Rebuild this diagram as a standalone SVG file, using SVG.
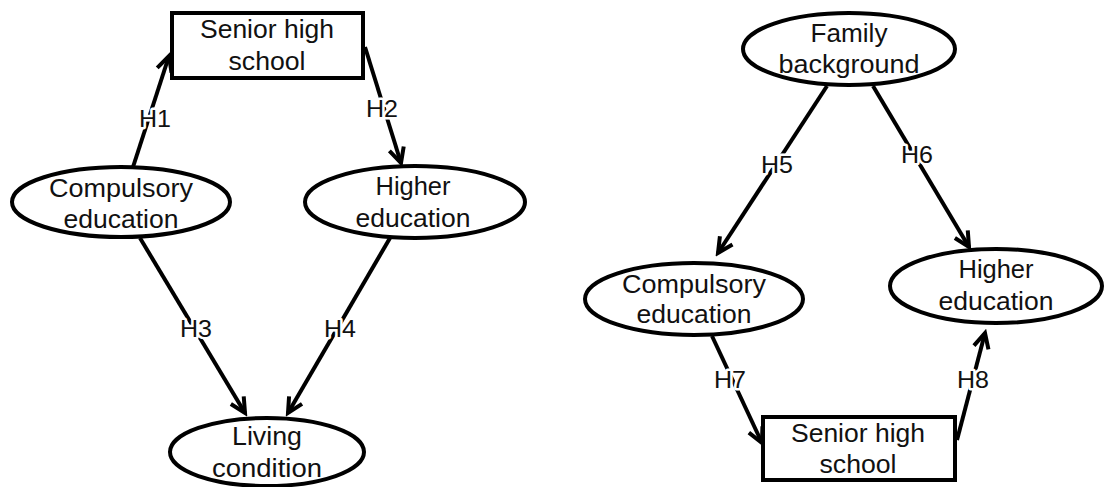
<svg xmlns="http://www.w3.org/2000/svg" width="1105" height="487" viewBox="0 0 1105 487">
<style>
.shape{fill:#fff;stroke:#000;stroke-width:4}
.t{font-family:"Liberation Sans",Arial,sans-serif;font-size:26px;fill:#111;text-anchor:middle}
.lbl{font-family:"Liberation Sans",Arial,sans-serif;font-size:24px;fill:#111;text-anchor:middle;stroke:#fff;stroke-width:5;paint-order:stroke;stroke-linejoin:round}
.edge{stroke:#000;stroke-width:4;fill:none;marker-end:url(#arr)}
</style>
<defs>
<marker id="arr" markerUnits="userSpaceOnUse" viewBox="-18 -10 22 20" markerWidth="22" markerHeight="20" refX="0" refY="0" orient="auto">
<path d="M-15,-7.5 L0,0 L-15,7.5" fill="none" stroke="#000" stroke-width="4" stroke-linejoin="miter"/>
</marker>
</defs>
<rect width="1105" height="487" fill="#fff"/>
<g id="connectors">
<line class="edge" x1="133" y1="167" x2="169" y2="56"/>
<line class="edge" x1="365" y1="47" x2="401" y2="163"/>
<line class="edge" x1="140" y1="238" x2="245" y2="413"/>
<line class="edge" x1="390" y1="238" x2="288" y2="413"/>
<line class="edge" x1="827" y1="86" x2="718" y2="253"/>
<line class="edge" x1="873" y1="86" x2="969" y2="247"/>
<line class="edge" x1="712" y1="336" x2="762" y2="443"/>
<line class="edge" x1="957" y1="440" x2="985" y2="333"/>
<text class="lbl" x="155" y="127" textLength="32" lengthAdjust="spacingAndGlyphs">H1</text>
<text class="lbl" x="382" y="117" textLength="32" lengthAdjust="spacingAndGlyphs">H2</text>
<text class="lbl" x="196" y="337" textLength="32" lengthAdjust="spacingAndGlyphs">H3</text>
<text class="lbl" x="340" y="337" textLength="32" lengthAdjust="spacingAndGlyphs">H4</text>
<text class="lbl" x="777" y="173" textLength="32" lengthAdjust="spacingAndGlyphs">H5</text>
<text class="lbl" x="917" y="163" textLength="32" lengthAdjust="spacingAndGlyphs">H6</text>
<text class="lbl" x="730" y="388" textLength="32" lengthAdjust="spacingAndGlyphs">H7</text>
<text class="lbl" x="973" y="388" textLength="32" lengthAdjust="spacingAndGlyphs">H8</text>
</g>
<g id="shs-left">
<rect class="shape" x="172" y="13" width="191" height="65"/>
<text class="t" x="267" y="38" textLength="134" lengthAdjust="spacingAndGlyphs">Senior high</text>
<text class="t" x="267" y="70" textLength="77" lengthAdjust="spacingAndGlyphs">school</text>
</g>
<g id="compulsory-left">
<ellipse class="shape" cx="121" cy="202" rx="109" ry="35"/>
<text class="t" x="121" y="197" textLength="144" lengthAdjust="spacingAndGlyphs">Compulsory</text>
<text class="t" x="121" y="228" textLength="115" lengthAdjust="spacingAndGlyphs">education</text>
</g>
<g id="higher-left">
<ellipse class="shape" cx="415" cy="202" rx="110" ry="36"/>
<text class="t" x="413" y="195" textLength="75" lengthAdjust="spacingAndGlyphs">Higher</text>
<text class="t" x="413" y="227" textLength="115" lengthAdjust="spacingAndGlyphs">education</text>
</g>
<g id="living">
<ellipse class="shape" cx="267" cy="452" rx="97" ry="34"/>
<text class="t" x="267" y="445" textLength="70" lengthAdjust="spacingAndGlyphs">Living</text>
<text class="t" x="267" y="477" textLength="110" lengthAdjust="spacingAndGlyphs">condition</text>
</g>
<g id="family">
<ellipse class="shape" cx="849" cy="49" rx="106" ry="36"/>
<text class="t" x="849" y="42" textLength="77" lengthAdjust="spacingAndGlyphs">Family</text>
<text class="t" x="849" y="73" textLength="141" lengthAdjust="spacingAndGlyphs">background</text>
</g>
<g id="compulsory-right">
<ellipse class="shape" cx="694" cy="299" rx="109" ry="36"/>
<text class="t" x="694" y="293" textLength="144" lengthAdjust="spacingAndGlyphs">Compulsory</text>
<text class="t" x="694" y="323" textLength="115" lengthAdjust="spacingAndGlyphs">education</text>
</g>
<g id="higher-right">
<ellipse class="shape" cx="996" cy="286" rx="106" ry="37"/>
<text class="t" x="996" y="278" textLength="75" lengthAdjust="spacingAndGlyphs">Higher</text>
<text class="t" x="996" y="310" textLength="115" lengthAdjust="spacingAndGlyphs">education</text>
</g>
<g id="shs-right">
<rect class="shape" x="763" y="417" width="192" height="63"/>
<text class="t" x="858" y="442" textLength="134" lengthAdjust="spacingAndGlyphs">Senior high</text>
<text class="t" x="858" y="473" textLength="77" lengthAdjust="spacingAndGlyphs">school</text>
</g>
</svg>
